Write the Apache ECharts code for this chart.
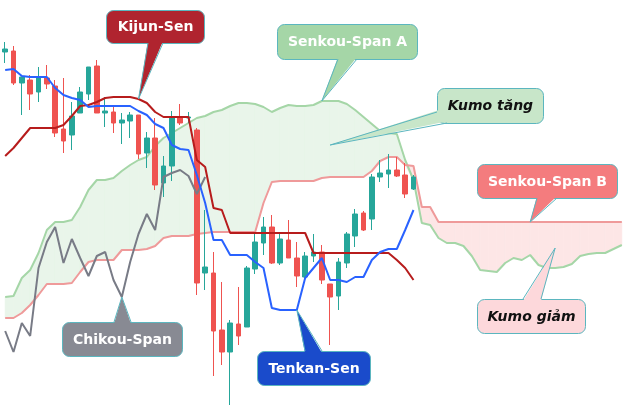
<!DOCTYPE html>
<html>
<head>
<meta charset="utf-8">
<script src="https://cdn.jsdelivr.net/npm/echarts@6/dist/echarts.min.js"></script>
<style>
html,body{margin:0;padding:0;background:#fff;}
#c{width:640px;height:410px;}
</style>
</head>
<body>
<div id="c"></div>
<script>
// ---- data (price units) ----
const opens  = [358,359,327,330,318,332,324,281,275,297,316,344,297,298,287,289,295,257,272,227,244,292,292,280,137,137,80,58,86,83,141,167,183,147,170,152,133,154,158,126,114,147,174,197,191,233,236,240,235,221];
const closes = [361,327,333,316,333,326,277,269,294,318,343,297,299,287,290,295,256,272,225,244,293,287,293,127,143,79,58,87,74,142,168,183,147,171,152,134,154,158,130,113,148,176,196,180,233,237,240,234,216,233];
const lows   = [347,325,295,300,308,321,273,257,260,297,310,297,283,277,266,272,251,242,220,213,229,285,287,115,120,34,45,5,65,83,136,155,146,145,152,123,132,148,126,65,100,142,163,179,180,228,222,233,212,220];
const highs  = [368,364,333,335,343,345,330,332,308,323,343,350,313,303,297,298,295,278,292,254,299,306,298,282,200,158,128,90,123,144,176,193,195,178,190,168,158,176,165,126,152,178,201,199,236,250,256,253,247,235];

const tenkan = [340,341,334,333,333,333,322,315,312,310,303,304,304,304,304,304,299,295,286,282,265,261,260,235,207,170,170,155,155,155,148,142,102,100,100,100,132,142,152,130,130,128,133,133,150,158,161,161,180,200];
const kijun  = [254,262,272,282,282,282,282,285,294,304,305,308,312,313,313,313,311,307,298,293,293,293,293,250,243,202,200,177,177,177,177,177,177,177,177,177,177,157,157,157,157,157,157,157,157,157,157,150,142,130];
const chikou = [79,58,87,74,142,168,183,147,171,152,134,154,158,130,113,148,176,196,180,233,237,240,234,216,233];
const senkouA = [113,114,132,140,157,180,188,188,190,203,
                 220,230,230,232,239,245,250,253,264,272,
                 277,282,287,292,294,298,300,304,307,307,
                 306,303,298,302,305,304,304,305,309,309,
                 309,306,300,293,286,279,277,276,250,230,
                 187,185,172,167,167,164,154,140,139,138,
                 147,152,150,155,145,142,142,143,146,154,
                 156,157,157,161,165];
const senkouB = [92,92,97,105,115,126,126,126,127,138,
                 148,150,150,150,160,160,160,161,164,172,
                 174,174,174,176,177,178,178,178,178,178,
                 178,207,228,229,229,229,229,229,232,233,
                 233,233,233,233,239,249,253,253,245,244,
                 203,203,188,188,188,188,188,188,188,188,
                 188,188,188,188,188,188,188,188,188,188,
                 188,188,188,188,188];
const periods = senkouA.map((_, i) => 'P' + (i + 1));

// ---- chart ----
const chart = echarts.init(document.getElementById('c'), null, {renderer: 'canvas'});
const candleData = opens.map((o, i) => [o, closes[i], lows[i], highs[i]]);
const cloudData = senkouA.slice(0, -1).map((a, i) => [i, a, senkouB[i]]);

const GREEN_FILL = '#E9F5EA', PINK_FILL = '#FDE6E6';

function renderCloud(params, api) {
  const i = api.value(0);
  const a0 = senkouA[i], a1 = senkouA[i + 1], b0 = senkouB[i], b1 = senkouB[i + 1];
  const pA0 = api.coord([i, a0]), pA1 = api.coord([i + 1, a1]);
  const pB0 = api.coord([i, b0]), pB1 = api.coord([i + 1, b1]);
  const d0 = a0 - b0, d1 = a1 - b1;
  const poly = (pts, col) => ({type: 'polygon', shape: {points: pts},
    style: {fill: col, stroke: col, lineWidth: 0.6}});
  if (d0 * d1 >= 0) {
    const col = (d0 + d1) >= 0 ? GREEN_FILL : PINK_FILL;
    return {type: 'group', children: [poly([pA0, pA1, pB1, pB0], col)]};
  }
  const t = d0 / (d0 - d1);
  const pX = api.coord([i + t, a0 + t * (a1 - a0)]);
  return {type: 'group', children: [
    poly([pA0, pX, pB0], d0 > 0 ? GREEN_FILL : PINK_FILL),
    poly([pX, pA1, pB1], d1 > 0 ? GREEN_FILL : PINK_FILL)
  ]};
}

const lineSeries = (name, data, color, z) => ({
  name, type: 'line', data, symbol: 'none', smooth: false, z,
  lineStyle: {color, width: 2}, itemStyle: {color}, silent: true
});

chart.setOption({
  animation: false,
  backgroundColor: '#ffffff',
  grid: {left: 1, right: 14, top: 0, bottom: 0},
  xAxis: {type: 'category', data: periods, boundaryGap: true, show: false},
  yAxis: {type: 'value', min: 0, max: 410, show: false},
  series: [
    {type: 'custom', name: 'Kumo', renderItem: renderCloud, data: cloudData,
     encode: {x: 0, y: [1, 2]}, z: 1, silent: true, clip: true},
    lineSeries('Senkou-Span A', senkouA, '#A5D6A7', 2),
    lineSeries('Senkou-Span B', senkouB, '#EF9A9A', 2),
    {type: 'candlestick', name: 'Giá', data: candleData, barWidth: 5, z: 3,
     itemStyle: {color: '#26A69A', color0: '#EF5350', borderColor: '#26A69A', borderColor0: '#EF5350', borderWidth: 1}},
    lineSeries('Chikou-Span', chikou, '#787B86', 4),
    lineSeries('Kijun-Sen', kijun, '#B71C1C', 4),
    lineSeries('Tenkan-Sen', tenkan, '#2962FF', 4)
  ]
});

// ---- callouts: boxes in pixels, tips anchored to data points ----
const BORDER = '#5BB6BF';
const callouts = [
  {text: 'Kijun-Sen', box: [106, 10, 98, 33], b1: [148, 43], b2: [163, 43], inDir: [0, -2], tip: [16, kijun[16]], fill: '#B0242F', color: '#ffffff', italic: false},
  {text: 'Senkou-Span A', box: [277, 24, 140, 35], b1: [338, 59], b2: [357, 59], inDir: [0, -2], tip: [38, senkouA[38]], fill: '#A5D6A7', color: '#ffffff', italic: false},
  {text: 'Kumo tăng', box: [437, 88, 106, 35], b1: [437, 112], b2: [447, 123], inDir: [2, -2], tip: [39, 265], fill: '#C8E6C9', color: '#111111', italic: true},
  {text: 'Senkou-Span B', box: [477, 164, 140, 34], b1: [537, 198], b2: [557, 198], inDir: [0, -2], tip: [63, senkouB[63]], fill: '#F47C7E', color: '#ffffff', italic: false},
  {text: 'Kumo giảm', box: [477, 299, 108, 34], b1: [523, 299], b2: [541, 299], inDir: [0, 2], tip: [66, 162], fill: '#FDD8DB', color: '#111111', italic: true},
  {text: 'Chikou-Span', box: [62, 322, 120, 34], b1: [114, 322], b2: [131, 322], inDir: [0, 2], tip: [14, chikou[14]], fill: '#888A93', color: '#ffffff', italic: false},
  {text: 'Tenkan-Sen', box: [257, 351, 113, 34], b1: [305, 351], b2: [322, 351], inDir: [0, 2], tip: [35, tenkan[35]], fill: '#1A4BCB', color: '#ffffff', italic: false}
];

const graphics = [];
callouts.forEach(c => {
  const tip = chart.convertToPixel({gridIndex: 0}, c.tip);
  const [x, y, w, h] = c.box;
  const ib1 = [c.b1[0] + c.inDir[0], c.b1[1] + c.inDir[1]];
  const ib2 = [c.b2[0] + c.inDir[0], c.b2[1] + c.inDir[1]];
  graphics.push(
    {type: 'rect', z: 100, shape: {x: x + 0.5, y: y + 0.5, width: w, height: h, r: 7},
     style: {fill: c.fill, stroke: BORDER, lineWidth: 1}},
    {type: 'polygon', z: 101, shape: {points: [ib1, tip, ib2]}, style: {fill: c.fill}},
    {type: 'polyline', z: 102, shape: {points: [c.b1, tip, c.b2]},
     style: {stroke: BORDER, fill: null, lineWidth: 1}},
    {type: 'text', z: 103, style: {
      text: c.text, x: x + w / 2 + 0.5, y: y + h / 2 + 1,
      align: 'center', verticalAlign: 'middle', textAlign: 'center', textVerticalAlign: 'middle',
      font: (c.italic ? 'italic ' : '') + 'bold 14px "DejaVu Sans", Verdana, sans-serif',
      fill: c.color}}
  );
});
chart.setOption({graphic: graphics});
</script>
</body>
</html>
